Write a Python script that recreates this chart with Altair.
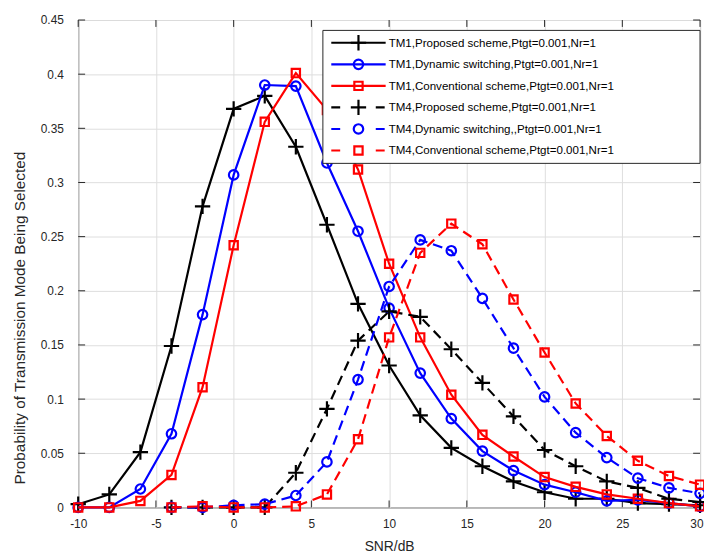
import altair as alt
import pandas as pd

# ---------------- data ----------------
snr_tm1 = [-10, -8, -6, -4, -2, 0, 2, 4, 6, 8, 10, 12, 14, 16, 18, 20, 22, 24, 26, 28, 30]
snr_tm4 = [-4, -2, 0, 2, 4, 6, 8, 10, 12, 14, 16, 18, 20, 22, 24, 26, 28, 30]

tm1_proposed = [0.003, 0.012, 0.051, 0.149, 0.278, 0.368, 0.380, 0.333, 0.261, 0.188, 0.131,
                0.085, 0.055, 0.038, 0.024, 0.014, 0.008, 0.008, 0.004, 0.003, 0.002]
tm1_dynamic = [0.0, 0.0, 0.017, 0.068, 0.178, 0.307, 0.390, 0.389, 0.318, 0.255, 0.184,
               0.124, 0.082, 0.052, 0.034, 0.021, 0.014, 0.006, 0.007, 0.004, 0.001]
tm1_conventional = [0.0, 0.0, 0.006, 0.030, 0.111, 0.242, 0.356, 0.401, 0.367, 0.312, 0.225,
                    0.157, 0.104, 0.067, 0.047, 0.028, 0.019, 0.012, 0.008, 0.004, 0.001]
tm4_proposed = [0.0, 0.0, 0.0, 0.0, 0.032, 0.091, 0.154, 0.181, 0.176, 0.146, 0.115,
                0.084, 0.053, 0.038, 0.024, 0.018, 0.008, 0.005]
tm4_dynamic = [0.0, 0.0, 0.002, 0.003, 0.011, 0.042, 0.118, 0.204, 0.247, 0.237, 0.193,
               0.147, 0.102, 0.069, 0.046, 0.027, 0.018, 0.013]
tm4_conventional = [0.0, 0.001, 0.0, 0.0, 0.001, 0.012, 0.063, 0.157, 0.235, 0.262, 0.243,
                    0.192, 0.143, 0.096, 0.066, 0.043, 0.029, 0.021]

series_labels = [
    "TM1,Proposed scheme,Ptgt=0.001,Nr=1",
    "TM1,Dynamic switching,Ptgt=0.001,Nr=1",
    "TM1,Conventional scheme,Ptgt=0.001,Nr=1",
    "TM4,Proposed scheme,Ptgt=0.001,Nr=1",
    "TM4,Dynamic switching,,Ptgt=0.001,Nr=1",
    "TM4,Conventional scheme,Ptgt=0.001,Nr=1",
]

x_ticks = [-10, -5, 0, 5, 10, 15, 20, 25, 30]
y_ticks = [0, 0.05, 0.1, 0.15, 0.2, 0.25, 0.3, 0.35, 0.4, 0.45]

# ---------------- style ----------------
W, H = 629, 493
FONT = "Liberation Sans"
AX = "#262626"
LW = 2.2
PLUS = "M-1,0L1,0M0,-1L0,1"
shape_style = {
    "plus": dict(shape=PLUS, size=240),
    "circle": dict(shape="circle", size=92),
    "square": dict(shape="square", size=70),
}

series = [
    (series_labels[0], snr_tm1, tm1_proposed, "#000000", False, "plus"),
    (series_labels[1], snr_tm1, tm1_dynamic, "#0000ff", False, "circle"),
    (series_labels[2], snr_tm1, tm1_conventional, "#ff0000", False, "square"),
    (series_labels[3], snr_tm4, tm4_proposed, "#000000", True, "plus"),
    (series_labels[4], snr_tm4, tm4_dynamic, "#0000ff", True, "circle"),
    (series_labels[5], snr_tm4, tm4_conventional, "#ff0000", True, "square"),
]

x_scale = alt.Scale(domain=[-10, 30], nice=False, zero=False)
y_scale = alt.Scale(domain=[0, 0.45], nice=False, zero=False)

x_axis = alt.Axis(
    values=x_ticks, labelExpr="'' + datum.value", grid=True, gridColor="#dedede",
    gridWidth=1, domain=False, ticks=False, tickSize=0, labelPadding=11,
    labelFont=FONT, labelFontSize=12, labelColor=AX, labelFlush=False,
    labelAlign={"condition": {"test": "datum.value == 30", "value": "right"}, "value": "center"},
    labelOffset={"condition": {"test": "datum.value == 30", "value": 3}, "value": 0},
    titleFont=FONT, titleFontSize=14, titleFontWeight="normal", titleColor=AX,
    titleBaseline="top", titleY=33,
)
y_axis = alt.Axis(
    values=y_ticks, format=".2~f", grid=True, gridColor="#dedede", gridWidth=1,
    domain=False, ticks=False, tickSize=0, labelPadding=15,
    labelFont=FONT, labelFontSize=12, labelColor=AX, labelFlush=False,
    titleFont=FONT, titleFontSize=15.5, titleFontWeight="normal", titleColor=AX,
    titleAngle=270, titleBaseline="middle", titleAlign="center", titleX=-59, titleY=301,
)

X = alt.X("snr:Q", scale=x_scale, axis=x_axis, title="SNR/dB")
Y = alt.Y("prob:Q", scale=y_scale, axis=y_axis,
          title="Probability of Transmission Mode Being Selected")

layers = []

# inward ticks (MATLAB box style)
ydf = pd.DataFrame({"prob": y_ticks})
xdf = pd.DataFrame({"snr": x_ticks})
layers.append(alt.Chart(ydf).mark_rule(color=AX, strokeWidth=1).encode(
    y=Y, x=alt.value(0), x2=alt.value(7)))
layers.append(alt.Chart(ydf).mark_rule(color=AX, strokeWidth=1).encode(
    y=Y, x=alt.value(W - 7), x2=alt.value(W)))
layers.append(alt.Chart(xdf).mark_rule(color=AX, strokeWidth=1).encode(
    x=X, y=alt.value(H - 7), y2=alt.value(H)))
layers.append(alt.Chart(xdf).mark_rule(color=AX, strokeWidth=1).encode(
    x=X, y=alt.value(0), y2=alt.value(7)))

# curves
for name, xs, ys, color, dashed, marker in series:
    df = pd.DataFrame({"snr": xs, "prob": ys})
    line_kw = dict(color=color, strokeWidth=LW)
    if dashed:
        line_kw["strokeDash"] = [10, 6]
    layers.append(alt.Chart(df).mark_line(**line_kw).encode(x=X, y=Y))
    layers.append(alt.Chart(df).mark_point(
        filled=False, color=color, strokeWidth=LW, opacity=1, **shape_style[marker]
    ).encode(x=X, y=Y))

# legend box
one = pd.DataFrame({"k": [0]})
layers.append(alt.Chart(one).mark_rect(fill="white", stroke=AX, strokeWidth=1).encode(
    x=alt.value(247.5), x2=alt.value(W), y=alt.value(10.5), y2=alt.value(145)))

for i, (name, xs, ys, color, dashed, marker) in enumerate(series):
    yy = 23 + i * 21.8
    rule_kw = dict(color=color, strokeWidth=LW)
    if dashed:
        rule_kw["strokeDash"] = [9, 36]
    layers.append(alt.Chart(one).mark_rule(**rule_kw).encode(
        x=alt.value(256), x2=alt.value(311), y=alt.value(yy)))
    layers.append(alt.Chart(one).mark_point(
        filled=False, color=color, strokeWidth=LW, opacity=1, **shape_style[marker]
    ).encode(x=alt.value(283.5), y=alt.value(yy)))
    layers.append(alt.Chart(pd.DataFrame({"label": [name]})).mark_text(
        align="left", baseline="middle", font=FONT, fontSize=11.7, color="#000000"
    ).encode(x=alt.value(314), y=alt.value(yy), text="label:N"))

chart = alt.layer(*layers).properties(
    width=W, height=H,
    autosize=alt.AutoSizeParams(type="none"),
    padding={"left": 71, "top": 9, "right": 4, "bottom": 47},
    background="white",
).configure_view(stroke=AX, strokeWidth=1)

chart.save("out.html", embed_options={"renderer": "svg", "actions": False})
